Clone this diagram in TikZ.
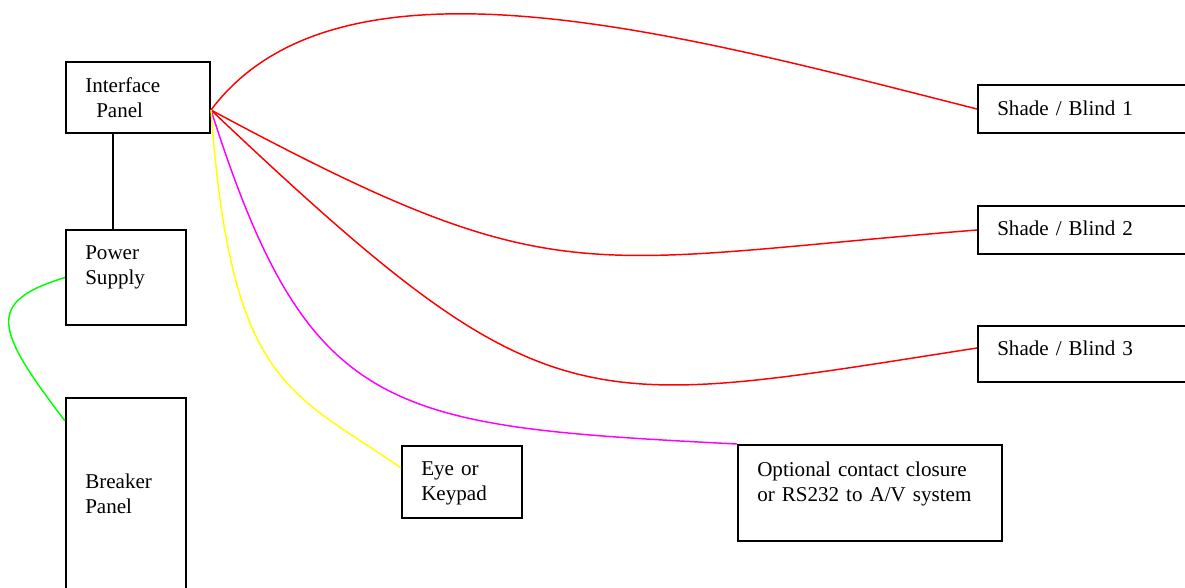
\documentclass[tikz,border=0pt]{standalone}
\usepackage{fontspec}
\setmainfont{Liberation Serif}
\usetikzlibrary{calc}
\definecolor{wred}{RGB}{255,0,0}
\definecolor{wmag}{RGB}{255,0,255}
\definecolor{wyel}{RGB}{255,255,0}
\definecolor{wgrn}{RGB}{0,255,0}
\newcommand{\lblfont}{\fontsize{15.8}{18.75}\selectfont\spaceskip=3pt plus 1pt minus 0.5pt\relax}
\begin{document}
\begin{tikzpicture}[x=0.75pt,y=-0.75pt,
  box/.style={draw=black,line width=1.5pt,rectangle,inner sep=0pt,anchor=north west},
  lbl/.style={anchor=base west,inner sep=0pt,text width=250pt,align=left,font=\lblfont},
  wire/.style={line width=1.1pt}]
\useasboundingbox (0,0) rectangle (1185,587);
% boxes
\node[box,minimum width=108pt,minimum height=53.25pt] (ip) at (65,61) {};
\node[box,minimum width=90pt,minimum height=71.25pt] (ps) at (65,229) {};
\node[box,minimum width=90pt,minimum height=152.25pt] (bp) at (65,397) {};
\node[box,minimum width=90pt,minimum height=54pt] (eye) at (401,445) {};
\node[box,minimum width=198pt,minimum height=72pt] (opt) at (737,444) {};
\node[box,minimum width=167.25pt,minimum height=36pt] (s1) at (977,84) {};
\node[box,minimum width=167.25pt,minimum height=36pt] (s2) at (977,205) {};
\node[box,minimum width=167.25pt,minimum height=42pt] (s3) at (977,325) {};
% labels
\node[lbl] (ipt) at ($(ip.north west)+(20,31)$) {Interface\\\hspace*{8.25pt}Panel};
\node[lbl] (pst) at ($(ps.north west)+(20,30)$) {Power\\Supply};
\node[lbl] (bpt) at ($(bp.north west)+(20,91)$) {Breaker\\Panel};
\node[lbl] (eyet) at ($(eye.north west)+(20,30)$) {Eye or\\Keypad};
\node[lbl] (optt) at ($(opt.north west)+(20,32)$) {Optional contact closure\\or RS232 to A/V system};
\node[lbl] (s1t) at ($(s1.north west)+(20,31)$) {Shade / Blind 1};
\node[lbl] (s2t) at ($(s2.north west)+(20,30)$) {Shade / Blind 2};
\node[lbl] (s3t) at ($(s3.north west)+(20,30)$) {Shade / Blind 3};
% connection points
\coordinate (ipo) at ($(ip.south east)+(0,-24)$);
\coordinate (bpi) at ($(bp.north west)+(0,24)$);
\coordinate (eyei) at ($(eye.north west)+(0,23)$);
\coordinate (s3i) at ($(s3.north west)+(0,23)$);
% connectors
\draw[line width=1.5pt] ($(ip.south west)+(48,0)$) -- ($(ps.north west)+(48,0)$);
\draw[wire,wgrn] (ps.west) .. controls (-15,302) and (-5,329) .. (bpi);
\draw[wire,wred] (ipo) .. controls (339,-61) and (677,33) .. (s1.west);
\draw[wire,wred] (ipo) .. controls (559,297) and (577,262) .. (s2.west);
\draw[wire,wred] (ipo) .. controls (549,430) and (577,410) .. (s3i);
\draw[wire,wmag] (ipo) .. controls (309,418) and (387,426) .. (opt.north west);
\draw[wire,wyel] (ipo) .. controls (231,388) and (291,391) .. (eyei);
\end{tikzpicture}
\end{document}
